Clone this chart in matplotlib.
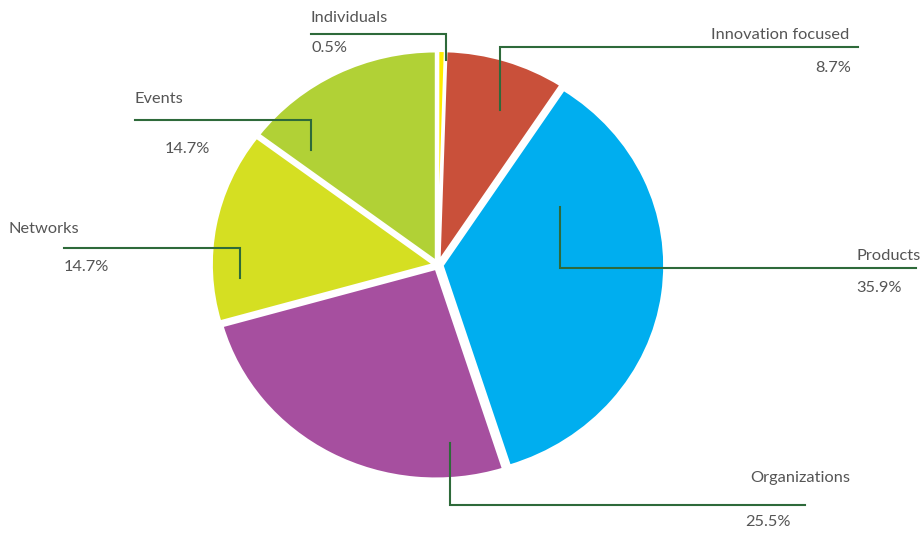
import matplotlib
matplotlib.use("Agg")
import matplotlib.pyplot as plt

# data
labels = ["Individuals", "Innovation focused", "Products", "Organizations", "Networks", "Events"]
shares = [0.5, 8.7, 35.9, 25.5, 14.7, 14.7]
colors = ["#FFEC00", "#C9503A", "#00AEEF", "#A64F9F", "#D5DF22", "#B1D136"]

# leader layout in pixels: anchor point, elbow y, line end x, name pos, pct pos, alignment
leaders = {
    "Individuals":        dict(anchor=(446, 60),  ly=34,  lx=311, name=(311, 18),  pct=(311, 48),  ha="left"),
    "Innovation focused": dict(anchor=(500, 110), ly=47,  lx=858, name=(849, 35),  pct=(851, 68),  ha="right"),
    "Products":           dict(anchor=(560, 207), ly=268, lx=916, name=(856, 256), pct=(856, 288), ha="left"),
    "Organizations":      dict(anchor=(450, 443), ly=505, lx=805, name=(750, 478), pct=(745, 522), ha="left"),
    "Networks":           dict(anchor=(240, 278), ly=248, lx=64,  name=(8, 229),   pct=(64, 267),  ha="left"),
    "Events":             dict(anchor=(311, 150), ly=120, lx=135, name=(135, 99),  pct=(165, 149), ha="left"),
}

W, H = 924, 534
cx, cy = 438, 265       # pie centre (pixels)
rx, ry = 222, 210       # the reference pie is slightly stretched sideways

plt.rcParams['font.family'] = ['Lato', 'DejaVu Sans']

fig = plt.figure(figsize=(W / 100, H / 100), dpi=100)
ax = fig.add_axes([0, 0, 1, 1])
ax.pie(shares, colors=colors, startangle=90, counterclock=False,
       explode=[0.02] * len(shares),
       wedgeprops=dict(edgecolor="white", linewidth=1.8))
ax.set_aspect("auto")
ax.set_xlim(-cx / rx, (W - cx) / rx)
ax.set_ylim(-(H - cy) / ry, cy / ry)
ax.axis("off")

# overlay in pixel coordinates for the leader lines and labels
ov = fig.add_axes([0, 0, 1, 1])
ov.set_xlim(0, W)
ov.set_ylim(H, 0)
ov.axis("off")

line_c = "#2E6A3A"
text_c = "#555555"
for lab, val in zip(labels, shares):
    d = leaders[lab]
    ax0, ay0 = d["anchor"]
    ov.plot([ax0, ax0, d["lx"]], [ay0, d["ly"], d["ly"]], color=line_c, lw=1.5,
            solid_joinstyle="miter")
    ov.text(*d["name"], lab, ha=d["ha"], va="center", fontsize=11.8, color=text_c)
    ov.text(*d["pct"], f"{val}%", ha=d["ha"], va="center", fontsize=11.8, color=text_c)

fig.savefig("out.png", dpi=100, facecolor="white")
